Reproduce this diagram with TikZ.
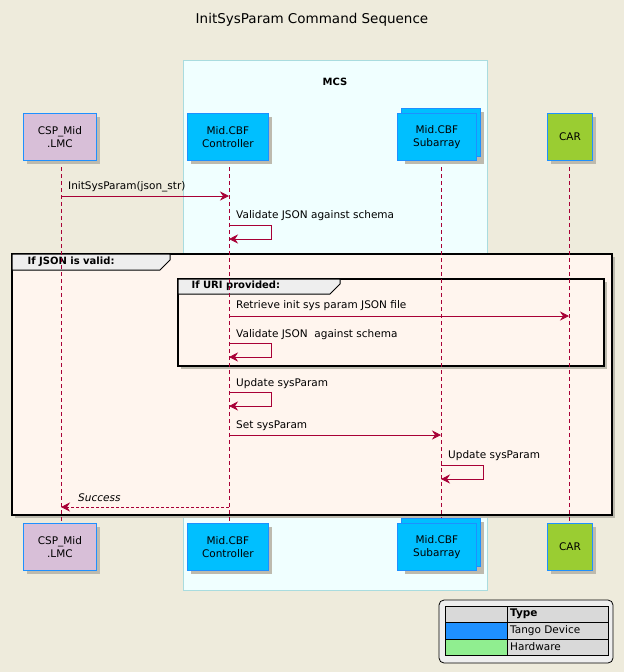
\documentclass[tikz,border=0pt]{standalone}
\usepackage{fontspec}
\setmainfont{DejaVu Sans}
\usetikzlibrary{arrows.meta}
\definecolor{bg}{HTML}{EEEBDC}
\definecolor{crim}{HTML}{A80036}
\definecolor{pborder}{HTML}{1E90FF}
\definecolor{thistleC}{HTML}{D8BFD8}
\definecolor{dsky}{HTML}{00BFFF}
\definecolor{ygreen}{HTML}{9ACD32}
\definecolor{azureC}{HTML}{F0FFFF}
\definecolor{boxb}{HTML}{A9DCDF}
\definecolor{shell}{HTML}{FFF5EE}
\definecolor{tabc}{HTML}{EEEEEE}
\definecolor{shad}{HTML}{BDBAAE}
\definecolor{lg}{HTML}{90EE90}
\begin{document}
\begin{tikzpicture}[x=1pt,y=-1pt,font=\fontsize{10.5}{12.5}\selectfont,
  part/.style={draw=pborder,line width=0.8pt,minimum height=47pt,align=center,inner sep=2pt},
  msg/.style={draw=crim,line width=0.7pt,-{Stealth[length=9pt,width=9pt,inset=3pt]}},
  life/.style={draw=crim,line width=0.6pt,dash pattern=on 4pt off 3pt},
  grp/.style={draw=black,line width=1.5pt},
  lbl/.style={anchor=south west,inner sep=1pt,text=black}]
\fill[bg] (0,0) rectangle (624,672);
\useasboundingbox (0,0) rectangle (624,672);
\node (title) at (312,20) {\fontsize{13.5}{15}\selectfont InitSysParam Command Sequence};
% MCS box
\draw[boxb,fill=azureC,line width=0.8pt] (183,60) rectangle (487,590);
\node[font=\fontsize{10}{12}\bfseries\selectfont] (mcs) at (335,82) {MCS};
% lifelines
\foreach \n/\x in {lmc/61,ctl/229,sub/441,car/569}{\coordinate (\n t) at (\x,160); \coordinate (\n b) at (\x,523);}
% groups
\fill[shad] (15,257) rectangle (615,518);
\draw[grp,fill=shell] (12,254) rectangle (612,515);
\draw[line width=1pt,fill=tabc] (12,254) -- (170,254) -- (170,260) -- (160,270) -- (12,270) -- cycle;
\node[font=\fontsize{10}{12}\bfseries\selectfont,anchor=west] (g1) at (24,262) {If JSON is valid:};
\fill[shad] (181,282) rectangle (607,369);
\draw[grp,fill=shell] (178,279) rectangle (604,366);
\draw[line width=1pt,fill=tabc] (178,279) -- (340,279) -- (340,284) -- (330,294) -- (178,294) -- cycle;
\node[font=\fontsize{10}{12}\bfseries\selectfont,anchor=west] (g2) at (188,286) {If URI provided:};
\foreach \n in {lmc,ctl,sub,car}{\draw[life] (\n t) -- (\n b);}
% participants
\foreach \y/\s in {113/t,523/b}{
 \fill[shad] (27,\y+4) rectangle (100,\y+51);
 \node[part,fill=thistleC,minimum width=73pt,anchor=north west] (lmc\s box) at (23,\y) {CSP\_Mid\\.LMC};
 \fill[shad] (191,\y+4) rectangle (272,\y+51);
 \node[part,fill=dsky,minimum width=81pt,anchor=north west] (ctl\s box) at (187,\y) {Mid.CBF\\Controller};
 \fill[shad] (405,\y-1) rectangle (484,\y+51);
 \draw[pborder,fill=dsky,line width=0.8pt] (401,\y-5) rectangle (480,\y+43);
 \node[part,fill=dsky,minimum width=79pt,anchor=north west] (sub\s box) at (397,\y) {Mid.CBF\\Subarray};
 \fill[shad] (551,\y+4) rectangle (596,\y+51);
 \node[part,fill=ygreen,minimum width=45pt,anchor=north west] (car\s box) at (547,\y) {CAR};
}
% messages
\coordinate (m1a) at (61,196); \coordinate (m1b) at (229,196);
\draw[msg] (m1a) -- (m1b);
\node[lbl] (t0) at (67,193) {InitSysParam(json\_str)};
\coordinate (s1) at (229,225);
\draw[msg] (s1) -- ++(42,0) -- ++(0,14) -- ++(-42,0);
\node[lbl] (t1) at (235,222) {Validate JSON against schema};
\coordinate (m2a) at (229,316); \coordinate (m2b) at (569,316);
\draw[msg] (m2a) -- (m2b);
\node[lbl] (t2) at (235,312) {Retrieve init sys param JSON file};
\coordinate (s2) at (229,343);
\draw[msg] (s2) -- ++(42,0) -- ++(0,14) -- ++(-42,0);
\node[lbl] (t3) at (235,341) {Validate JSON\ \ against schema};
\coordinate (s3) at (229,392);
\draw[msg] (s3) -- ++(42,0) -- ++(0,14) -- ++(-42,0);
\node[lbl] (t4) at (235,390) {Update sysParam};
\coordinate (m3a) at (229,435); \coordinate (m3b) at (441,435);
\draw[msg] (m3a) -- (m3b);
\node[lbl] (t5) at (235,432) {Set sysParam};
\coordinate (s4) at (441,465);
\draw[msg] (s4) -- ++(42,0) -- ++(0,14) -- ++(-42,0);
\node[lbl] (t6) at (447,462) {Update sysParam};
\coordinate (m4a) at (229,507); \coordinate (m4b) at (61,507);
\draw[msg,dash pattern=on 3pt off 2pt] (m4a) -- (m4b);
\node[lbl,font=\fontsize{10.5}{12.5}\itshape\selectfont] (t7) at (77,503) {Success};
% legend
\draw[line width=0.8pt,fill=tabc,rounded corners=5pt] (439,600) rectangle (613,663);
\fill[white!85!black] (445,606) rectangle (608,655);
\fill[pborder] (445,622) rectangle (507,639);
\fill[lg] (445,639) rectangle (507,655);
\draw[line width=0.6pt] (445,606) rectangle (608,655) (507,606) -- (507,655)
  (445,622) -- (608,622) (445,639) -- (608,639);
\node[anchor=west,inner sep=1pt,font=\fontsize{10.5}{12}\bfseries\selectfont] (lh) at (509,614) {Type};
\node[anchor=west,inner sep=1pt] (l1) at (509,631) {Tango Device};
\node[anchor=west,inner sep=1pt] (l2) at (509,647) {Hardware};
\end{tikzpicture}
\end{document}
